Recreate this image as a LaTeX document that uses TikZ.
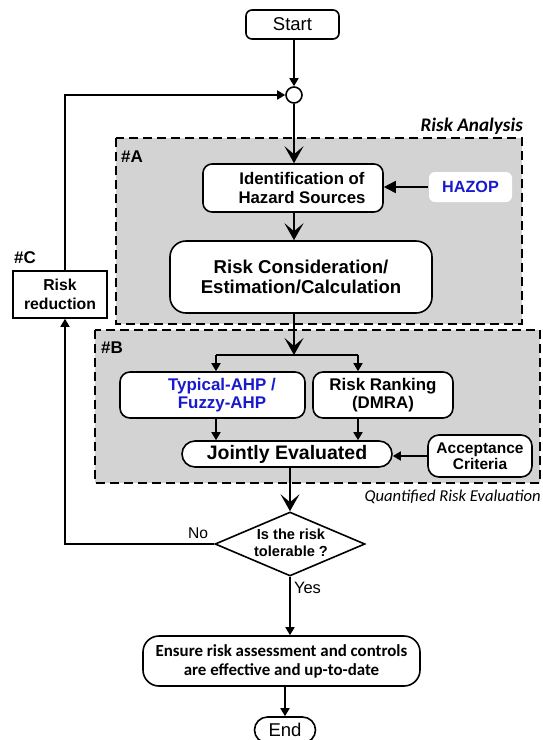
\documentclass[tikz,border=0pt]{standalone}
\usepackage{fontspec}
\setmainfont{Liberation Sans}
\newfontfamily\calibfont{Carlito}
\usetikzlibrary{arrows.meta,shapes.geometric}
\definecolor{boxgray}{RGB}{211,211,211}
\definecolor{hazblue}{RGB}{25,25,205}
\begin{document}
\begin{tikzpicture}[x=1pt,y=-1pt,
  every node/.style={inner sep=0pt},
  box/.style={draw, line width=1.6pt, fill=white, rounded corners=9pt, inner sep=0pt, align=center},
  conn/.style={line width=1.6pt},
  sarr/.style={conn,-{Triangle[length=8pt,width=9pt]}},
  harr/.style={conn,-{Triangle[length=12pt,width=12pt]}},
  barr/.style={conn,-{Stealth[length=17pt,width=19pt,inset=8pt]}},
  dashbox/.style={fill=boxgray, draw, line width=2pt, dash pattern=on 9pt off 5pt},
  lab/.style={font=\bfseries\fontsize{17}{19}\selectfont}
]
\useasboundingbox (0,0) rectangle (542,740);

% group regions
\draw[dashbox] (116,138) rectangle (522,324);
\draw[dashbox] (95,330) rectangle (540,483);

% nodes
\node[box, rounded corners=6pt, minimum width=93pt, minimum height=29pt, font=\fontsize{18.5}{21}\selectfont] (start) at (292.5,24.5) {Start};
\node[circle, draw, line width=1.6pt, fill=white, minimum size=16pt] (circ) at (294,95) {};

\node[box, minimum width=180pt, minimum height=48pt] (ident) at (293,188) {};
\node[font=\bfseries\fontsize{16.8}{18.5}\selectfont, align=center] (identtxt) at (302,188) {Identification of\\Hazard Sources};
\node[box, draw=none, rounded corners=6pt, minimum width=83pt, minimum height=30pt, text=hazblue, font=\bfseries\fontsize{16.2}{18}\selectfont] (hazop) at (470.5,187) {HAZOP};

\node[box, rounded corners=16pt, minimum width=262pt, minimum height=72pt, font=\bfseries\fontsize{18.6}{20.5}\selectfont] (rc) at (301,277) {Risk Consideration/\\Estimation/Calculation};

\node[box, rounded corners=10pt, minimum width=185pt, minimum height=46pt] (typ) at (212.5,395) {};
\node[text=hazblue, align=center, font=\bfseries\fontsize{16.9}{17.5}\selectfont] (typtxt) at (222,395) {Typical-AHP /\\Fuzzy-AHP};
\node[box, rounded corners=10pt, minimum width=140pt, minimum height=46pt, font=\bfseries\fontsize{16.9}{18.5}\selectfont] (rr) at (383,395) {Risk Ranking\\(DMRA)};

\node[box, rounded corners=13pt, minimum width=210pt, minimum height=26pt, font=\bfseries\fontsize{19.5}{21}\selectfont] (jo) at (287,454) {Jointly Evaluated};
\node[box, rounded corners=11pt, minimum width=104pt, minimum height=42pt, font=\bfseries\fontsize{15.5}{16.5}\selectfont] (acc) at (480,456) {Acceptance\\Criteria};

\node[diamond, draw, line width=1.6pt, fill=white, minimum width=150pt, minimum height=64pt] (dia) at (290,544) {};
\node[align=center, font=\bfseries\fontsize{14.6}{16.7}\selectfont] (diatxt) at (291,543) {Is the risk\\tolerable ?};

\node[draw, line width=1.6pt, fill=white, minimum width=94pt, minimum height=47pt, align=center, font=\bfseries\fontsize{15.8}{19}\selectfont] (red) at (60,294.5) {Risk\\reduction};

\node[box, rounded corners=16pt, minimum width=277pt, minimum height=50pt, font=\calibfont\bfseries\fontsize{16.9}{19}\selectfont] (ens) at (281.5,661) {Ensure risk assessment and controls\\are effective and up-to-date};
\node[box, rounded corners=13pt, minimum width=61pt, minimum height=26pt, font=\fontsize{18.5}{21}\selectfont] (end) at (285,730) {End};

% labels
\node[lab] (la) at (132,157) {\#A};
\node[lab] (lb) at (112,348) {\#B};
\node[lab] (lc) at (25,258) {\#C};
\node[anchor=east, font=\calibfont\bfseries\itshape\fontsize{19.2}{21}\selectfont] (ra) at (523,126) {Risk Analysis};
\node[anchor=east, font=\calibfont\itshape\fontsize{16.6}{18}\selectfont] (qre) at (541,497) {Quantified Risk Evaluation};
\node[font=\fontsize{15.6}{17}\selectfont] (no) at (198,533) {No};
\node[font=\fontsize{16.5}{18}\selectfont] (yes) at (307.5,588) {Yes};

% connectors
\coordinate (bl) at (216,355);
\coordinate (brr) at (358,355);
\draw[sarr] (circ.north |- start.south) -- (circ.north);
\draw[barr] (circ.south) -- (circ.south |- ident.north);
\draw[barr] (circ.south |- ident.south) -- (circ.south |- rc.north);
\draw[harr] (hazop.west) -- (hazop.west -| ident.east);
\draw[barr] (circ.south |- rc.south) -- (circ.south |- bl);
\draw[conn] (bl) -- (brr);
\draw[sarr] (bl) -- (bl |- typ.north);
\draw[sarr] (brr) -- (brr |- rr.north);
\draw[sarr] (bl |- typ.south) -- (bl |- jo.north);
\draw[sarr] (brr |- rr.south) -- (brr |- jo.north);
\draw[sarr] (acc.west) -- (acc.west -| jo.east);
\draw[barr] (dia.north |- jo.south) -- (dia.north);
\draw[sarr] (dia.west) -| ([xshift=5pt]red.south);
\draw[sarr] ([xshift=5pt]red.north) |- (circ.west);
\draw[sarr] (dia.south) -- (dia.south |- ens.north);
\draw[sarr] (end.north |- ens.south) -- (end.north);
\end{tikzpicture}
\end{document}
